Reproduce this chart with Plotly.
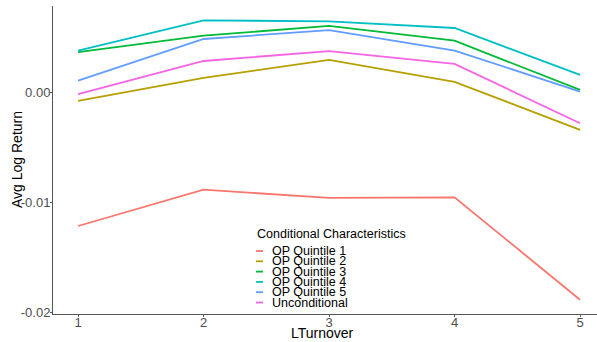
import plotly.graph_objects as go

x_vals = [1, 2, 3, 4, 5]
series_names = ["OP Quintile 1", "OP Quintile 2", "OP Quintile 3", "OP Quintile 4", "OP Quintile 5", "Unconditional"]
q1 = [-0.0121, -0.0088, -0.00955, -0.0095, -0.0188]
q2 = [-0.00073, 0.00136, 0.0030, 0.0010, -0.00336]
q3 = [0.0037, 0.0052, 0.0061, 0.00475, 0.00027]
q4 = [0.00385, 0.0066, 0.0065, 0.0059, 0.00164]
q5 = [0.00112, 0.0049, 0.0057, 0.00385, 0.00012]
uncond = [-0.00012, 0.0029, 0.0038, 0.00264, -0.00276]
colors = ["#F8766D", "#B79F00", "#00BA38", "#00BFC4", "#619CFF", "#F564E3"]
y_tickvals = [-0.02, -0.01, 0.0]
y_ticktext = ["-0.02", "-0.01", "0.00"]
x_ticks = [1, 2, 3, 4, 5]

all_series = [q1, q2, q3, q4, q5, uncond]

fig = go.Figure()
for name, ys, c in zip(series_names, all_series, colors):
    fig.add_trace(go.Scatter(x=x_vals, y=ys, mode="lines", name=name,
                             line=dict(color=c, width=1.8), showlegend=False))

W, H = 597, 342
ml, mr, mt, mb = 53, 0, 6, 28
pw, ph = W - ml - mr, H - mt - mb

def px_to_paper(px, py):
    return (px - ml) / pw, (H - mb - py) / ph

# Legend drawn as annotations + shapes
tx, ty = px_to_paper(255, 234)
fig.add_annotation(x=tx, y=ty, xref="paper", yref="paper", text="Conditional Characteristics",
                   showarrow=False, xanchor="left", yanchor="middle",
                   font=dict(size=12.5, color="#000000"))
item_y = [251, 261.3, 271.6, 281.9, 292.2, 302.5]
for name, c, iy in zip(series_names, colors, item_y):
    x0, yy = px_to_paper(256, iy)
    x1, _ = px_to_paper(263, iy)
    fig.add_shape(type="line", xref="paper", yref="paper", x0=x0, x1=x1, y0=yy, y1=yy,
                  line=dict(color=c, width=1.8))
    lx, _ = px_to_paper(270, iy)
    fig.add_annotation(x=lx, y=yy, xref="paper", yref="paper", text=name, showarrow=False,
                       xanchor="left", yanchor="middle", font=dict(size=12.5, color="#000000"))

# Axis titles as annotations
ax_, ay_ = px_to_paper(322, 333)
fig.add_annotation(x=ax_, y=ay_, xref="paper", yref="paper", text="LTurnover", showarrow=False,
                   xanchor="center", yanchor="middle", font=dict(size=14, color="#000000"))
bx_, by_ = px_to_paper(17, 160)
fig.add_annotation(x=bx_, y=by_, xref="paper", yref="paper", text="Avg Log Return", showarrow=False,
                   xanchor="center", yanchor="middle", textangle=-90,
                   font=dict(size=14, color="#000000"))

fig.update_layout(
    width=W, height=H,
    margin=dict(l=ml, r=mr, t=mt, b=mb),
    plot_bgcolor="white", paper_bgcolor="white",
    font=dict(family="Liberation Sans, Arial, sans-serif"),
    xaxis=dict(range=[0.8, 5.135], tickvals=x_ticks, showgrid=False, zeroline=False,
               showline=True, linecolor="#555555", linewidth=1, automargin=False,
               ticks="outside", ticklen=2, tickcolor="#555555", ticklabelstandoff=-6,
               tickfont=dict(size=13, color="#4d4d4d")),
    yaxis=dict(range=[-0.0201, 0.0079], tickvals=y_tickvals, ticktext=y_ticktext,
               showgrid=False, zeroline=False, automargin=False,
               showline=True, linecolor="#555555", linewidth=1,
               ticks="outside", ticklen=2, tickcolor="#555555", ticklabelstandoff=-3,
               tickfont=dict(size=13, color="#4d4d4d")),
)

fig.write_html("out.html", config={"displayModeBar": False},
               post_script="document.body.style.margin='0';document.body.style.overflow='hidden';")
